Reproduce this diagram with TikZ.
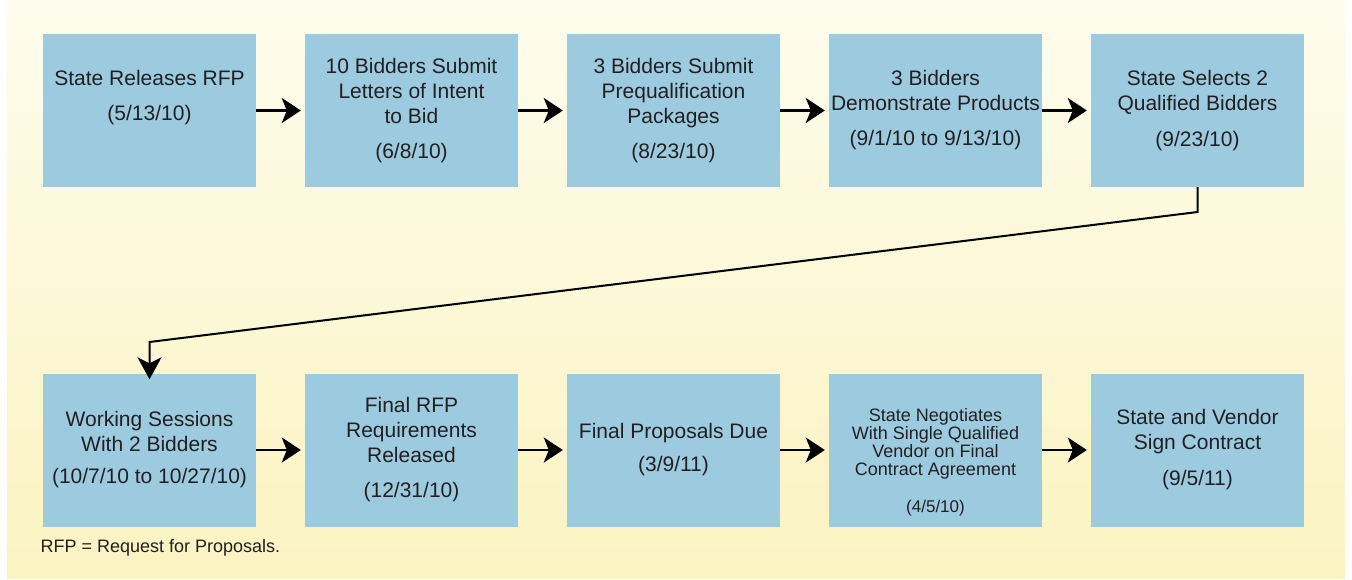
\documentclass[tikz,border=0pt]{standalone}
\usepackage{fontspec}
\setmainfont{Liberation Sans}
\usetikzlibrary{arrows.meta}

\definecolor{boxblue}{RGB}{156,203,224}
\definecolor{paneltop}{RGB}{254,252,237}
\definecolor{panelbottom}{RGB}{251,243,193}
\definecolor{inkgray}{RGB}{35,31,32}

\begin{document}
\begin{tikzpicture}[x=1pt,y=-1pt,
    stage/.style={fill=boxblue, minimum width=213pt, minimum height=153pt,
      inner sep=0pt, align=center, text=inkgray,
      font=\fontsize{21}{25}\selectfont},
    flow/.style={line width=2.8pt, -{Stealth[length=19pt,width=25pt,inset=5pt]},
      shorten >=4pt},
    backloop/.style={line width=2pt, -{Stealth[length=22pt,width=24pt,inset=6pt]},
      shorten >=-6pt}]
    % Define rows
    \def\rowTop{110.5}
    \def\rowBottom{450}

    % Background panel
    \useasboundingbox (0,0) rectangle (1352,579);
    \shade[top color=paneltop, bottom color=panelbottom] (7,0) rectangle (1345,578);

    % First row of stages
    \node[stage] (release) at (149.5,\rowTop)
      {State Releases RFP\\[10pt](5/13/10)\\[5pt]\mbox{}};
    \node[stage] (letters) at (411.5,\rowTop)
      {10 Bidders Submit\\Letters of Intent\\to Bid\\[10pt](6/8/10)};
    \node[stage] (prequal) at (673.5,\rowTop)
      {3 Bidders Submit\\Prequalification\\Packages\\[10pt](8/23/10)};
    \node[stage] (demo) at (935.5,\rowTop)
      {3 Bidders\\Demonstrate Products\\[10pt](9/1/10 to 9/13/10)};
    \node[stage] (select) at (1197.5,\rowTop)
      {State Selects 2\\Qualified Bidders\\[11pt](9/23/10)};

    % Second row of stages
    \node[stage] (sessions) at (149.5,\rowBottom)
      {Working Sessions\\With 2 Bidders\\[7pt](10/7/10 to 10/27/10)};
    \node[stage] (finalrfp) at (411.5,\rowBottom)
      {Final RFP\\Requirements\\Released\\[10pt](12/31/10)};
    \node[stage] (due) at (673.5,\rowBottom)
      {Final Proposals Due\\[8pt](3/9/11)};
    \node[stage, font=\fontsize{18}{18}\selectfont] (negotiate) at (935.5,\rowBottom)
      {\mbox{}\\[20pt]State Negotiates\\With Single Qualified\\Vendor on Final\\Contract Agreement\\[19pt]{\fontsize{17}{18}\selectfont(4/5/10)}};
    \node[stage] (sign) at (1197.5,\rowBottom)
      {State and Vendor\\Sign Contract\\[11pt](9/5/11)};

    % Arrows along the rows
    \draw[flow] (release) -- (letters);
    \draw[flow] (letters) -- (prequal);
    \draw[flow] (prequal) -- (demo);
    \draw[flow] (demo) -- (select);
    \draw[flow] (sessions) -- (finalrfp);
    \draw[flow] (finalrfp) -- (due);
    \draw[flow] (due) -- (negotiate);
    \draw[flow] (negotiate) -- (sign);

    % Wrap from the end of the first row to the start of the second
    \coordinate (turnA) at (1197.5,212);
    \coordinate (turnB) at (149.5,342);
    \draw[backloop] (select.south) -- (turnA) -- (turnB) -- (sessions.north);

    % Abbreviation note
    \node[anchor=west, text=inkgray, font=\fontsize{18}{20}\selectfont] (note)
      at (37,548) {RFP = Request for Proposals.};
\end{tikzpicture}
\end{document}
